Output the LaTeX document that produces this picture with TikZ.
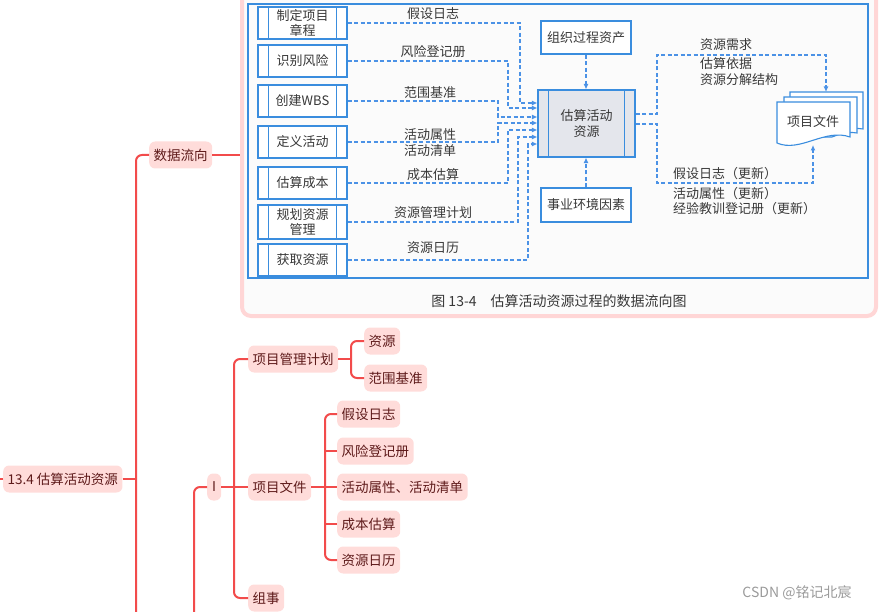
\documentclass[tikz,border=0pt]{standalone}
\usepackage{fontspec}
\setmainfont{Noto Sans CJK SC}
\newfontfamily\cjk{Noto Sans CJK SC}
\usetikzlibrary{arrows.meta}
\definecolor{mmline}{HTML}{F24B4B}
\definecolor{mmfill}{HTML}{FFDCDA}
\definecolor{mmtext}{HTML}{5E1A1A}
\definecolor{pinkframe}{HTML}{FFD6D6}
\definecolor{figbg}{HTML}{FBFBFB}
\definecolor{figblue}{HTML}{3A8DDE}
\definecolor{flowblue}{HTML}{4B92E6}
\definecolor{cfill}{HTML}{E4E6EC}
\definecolor{figtext}{HTML}{383838}
\definecolor{wmark}{HTML}{9A9A9A}
\begin{document}
\begin{tikzpicture}[x=1pt,y=-1pt,
  mm/.style={rounded corners=6pt, fill=mmfill, text=mmtext, font=\cjk\fontsize{13.5}{16}\selectfont,
    inner xsep=4.5pt, inner ysep=0pt, minimum height=27pt, anchor=west},
  mmedge/.style={draw=mmline, line width=2pt, rounded corners=6pt},
  pbox/.style={draw=figblue, line width=1.1pt, fill=white, text=figtext, align=center,
    font=\cjk\fontsize{13}{15.5}\selectfont, minimum width=89pt, inner sep=0pt},
  sbox/.style={draw=figblue, line width=1.1pt, fill=white, text=figtext,
    font=\cjk\fontsize{13}{15.5}\selectfont, inner sep=0pt},
  figbar/.style={draw=figblue, line width=1.1pt},
  lab/.style={text=figtext, font=\cjk\fontsize{13}{16.7}\selectfont, inner sep=0pt},
  labl/.style={text=figtext, font=\cjk\fontsize{13}{16}\selectfont, inner sep=0pt, anchor=base west},
  flow/.style={draw=flowblue, line width=1.2pt, dash pattern=on 4pt off 2.5pt},
  arr/.style={-{Latex[length=5.5pt,width=5pt]}}
]
\useasboundingbox (0,0) rectangle (880,612);

% ---------- pink container with embedded figure ----------
\node[draw=pinkframe, line width=4pt, rounded corners=9pt, fill=figbg,
      minimum width=634pt, minimum height=330pt, inner sep=0pt] (fig) at (559,151) {};
\draw[draw=figblue, line width=1.1pt] (248,4) rectangle (868,278);

% left process boxes
\node[pbox, minimum height=32pt] (b1) at (302.5,23) {制定项目\\章程};
\node[pbox, minimum height=32pt] (b2) at (302.5,61) {识别风险};
\node[pbox, minimum height=32pt] (b3) at (302.5,101) {创建WBS};
\node[pbox, minimum height=32pt] (b4) at (302.5,142) {定义活动};
\node[pbox, minimum height=32pt] (b5) at (302.5,183) {估算成本};
\node[pbox, minimum height=34pt] (b6) at (302.5,222) {规划资源\\管理};
\node[pbox, minimum height=32pt] (b7) at (302.5,260) {获取资源};

% central process
\node[pbox, fill=cfill, minimum width=97pt, minimum height=67pt] (c) at (586.5,123.5) {估算活动\\资源};
\foreach \n in {b1,b2,b3,b4,b5,b6,b7,c}{
  \draw[figbar] ([xshift=11pt]\n.north west) -- ([xshift=11pt]\n.south west);
  \draw[figbar] ([xshift=-11pt]\n.north east) -- ([xshift=-11pt]\n.south east);
}

% side boxes
\node[sbox, minimum width=90pt, minimum height=33pt] (opa) at (586,37.5) {组织过程资产};
\node[sbox, minimum width=90pt, minimum height=34pt] (eef) at (586,205) {事业环境因素};

% input labels
\node[lab] (l1) at (433,14) {假设日志};
\node[lab] (l2) at (433,52) {风险登记册};
\node[lab] (l3) at (430,93) {范围基准};
\node[lab, align=center] (l4) at (430,142.5) {活动属性\\活动清单};
\node[lab] (l5) at (433,175) {成本估算};
\node[lab] (l6) at (433,213) {资源管理计划};
\node[lab] (l7) at (433,248) {资源日历};

% input flows
\draw[flow,arr] (b1.east) -- (520,23) -- (520,103) -- (c.west |- 0,103);
\draw[flow,arr] (b2.east) -- (508,61) -- (508,108) -- (c.west |- 0,108);
\draw[flow,arr] (b3.east) -- (498,101) -- (498,117) -- (c.west |- 0,117);
\draw[flow,arr] (b4.east) -- (498,142) -- (498,123) -- (c.west |- 0,123);
\draw[flow,arr] (b5.east) -- (508,183) -- (508,130) -- (c.west |- 0,130);
\draw[flow,arr] (b6.east) -- (518,222) -- (518,137) -- (c.west |- 0,137);
\draw[flow,arr] (b7.east) -- (528,260) -- (528,144) -- (c.west |- 0,144);
\draw[flow,arr] (opa.south) -- (opa.south |- c.north);
\draw[flow,arr] (eef.north) -- (eef.north |- c.south);

% project documents stack
\coordinate (doctop) at (826,92);
\coordinate (docbot) at (813,145);
\draw[figblue, line width=1.1pt, fill=white] (790,92) -- (863,92) -- (863,129) .. controls (850,127) and (845,130) .. (840,132) -- (790,132) -- cycle;
\draw[figblue, line width=1.1pt, fill=white] (784,97) -- (857,97) -- (857,133) .. controls (845,131) and (838,135) .. (832,137) -- (784,137) -- cycle;
\draw[figblue, line width=1.1pt, fill=white] (777,102) -- (850,102) -- (850,137) .. controls (825,128) and (800,153) .. (777,143) -- cycle;
\node[lab] (doctext) at (813,122) {项目文件};

% output flows
\draw[flow,arr] (c.east |- 0,114) -- (657,114) -- (657,55) -- (826,55) -- (doctop);
\draw[flow,arr] (c.east |- 0,124) -- (657,124) -- (657,183) -- (813,183) -- (docbot);
\node[labl] (r1a) at (700,50) {资源需求};
\node[labl] (r1b) at (700,69) {估算依据};
\node[labl] (r1c) at (700,85) {资源分解结构};
\node[labl] (r2a) at (673,179) {假设日志（更新）};
\node[labl] (r2b) at (673,198.5) {活动属性（更新）};
\node[labl] (r2c) at (673,214) {经验教训登记册（更新）};

% caption
\node[lab, font=\cjk\fontsize{14}{16}\selectfont] (cap) at (559,301) {图 13-4\hspace{14pt}估算活动资源过程的数据流向图};

% ---------- mind map ----------
\node[mm] (root) at (3,479) {13.4 估算活动资源};
\node[mm] (sjlx) at (149,155) {数据流向};
\node[mm, inner xsep=5pt] (inode) at (207,487) {I};
\node[mm] (xmgl) at (248,359) {项目管理计划};
\node[mm] (zy) at (364,341) {资源};
\node[mm] (fwjz) at (364,378) {范围基准};
\node[mm] (xmwj) at (248,487) {项目文件};
\node[mm] (jsrz) at (337,414) {假设日志};
\node[mm] (fxdj) at (337,451) {风险登记册};
\node[mm] (hdsx) at (337,487) {活动属性、活动清单};
\node[mm] (cbgs) at (337,524) {成本估算};
\node[mm] (zyrl) at (337,560) {资源日历};
\node[mm] (zs) at (248,598) {组事};

\draw[mmedge] (root.west) -- (-3,479);
\draw[mmedge] (root.east) -- (136,479);
\draw[mmedge] (sjlx.west) -| (136,620);
\draw[mmedge] (sjlx.east) -- (fig.west |- sjlx.east);
\draw[mmedge] (inode.west) -| (194,620);
\draw[mmedge] (inode.east) -- (xmwj.west);
\draw[mmedge] (xmgl.west) -| (234,487) |- (zs.west);
\draw[mmedge] (xmgl.east) -- (351,359);
\draw[mmedge] (zy.west) -| (351,359) |- (fwjz.west);
\draw[mmedge] (xmwj.east) -- (hdsx.west);
\draw[mmedge] (jsrz.west) -| (325,487) |- (zyrl.west);
\draw[mmedge] (fxdj.west) -- (325,451);
\draw[mmedge] (cbgs.west) -- (325,524);

% watermark
\node[text=wmark, font=\cjk\fontsize{14}{16}\selectfont, inner sep=0pt] (wm) at (797,593) {CSDN @铭记北宸};
\end{tikzpicture}
\end{document}
